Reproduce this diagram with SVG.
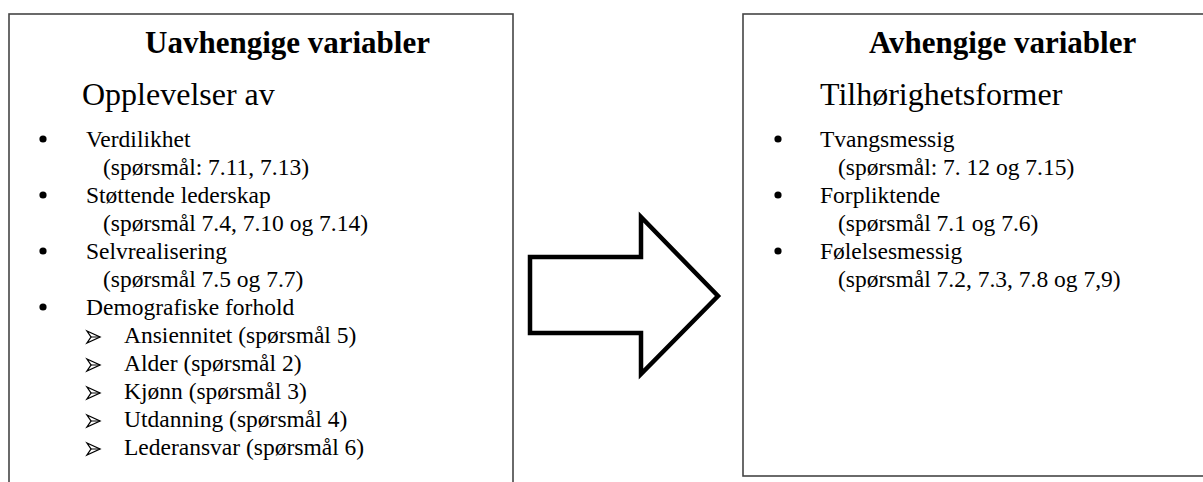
<svg xmlns="http://www.w3.org/2000/svg" width="1203" height="482" viewBox="0 0 1203 482">
<style>
.box{fill:#fff;stroke:#454545;stroke-width:1.6}
.title{font-family:"Liberation Serif","Times New Roman",serif;font-weight:bold;font-size:31px;fill:#000}
.sub{font-family:"Liberation Serif","Times New Roman",serif;font-size:32px;fill:#000}
.item{font-family:"Liberation Serif","Times New Roman",serif;font-size:23.5px;fill:#000}
.dot{fill:#000}
.ah{fill:#fff;stroke:#000;stroke-width:1.3;stroke-linejoin:miter}
.ahl{stroke:#000;stroke-width:1}
.bigarrow{fill:#fff;stroke:#000;stroke-width:4.5;stroke-linejoin:miter}
</style>
<defs>
<g id="ahead">
<polygon class="ah" points="0,-6 13,0 0,6 4,0"/>
<line class="ahl" x1="4" y1="0" x2="13" y2="0"/>
</g>
</defs>
<rect width="1203" height="482" fill="#fff"/>
<g id="uavhengige">
<rect class="box" x="9" y="14" width="504" height="490"/>
<text class="title" x="145" y="53">Uavhengige variabler</text>
<text class="sub" x="82" y="105">Opplevelser av</text>
<circle class="dot" cx="43" cy="139" r="3.6"/>
<text class="item" x="86" y="147">Verdilikhet</text>
<text class="item" x="103" y="175">(spørsmål: 7.11, 7.13)</text>
<circle class="dot" cx="43" cy="195" r="3.6"/>
<text class="item" x="86" y="203">Støttende lederskap</text>
<text class="item" x="103" y="231">(spørsmål 7.4, 7.10 og 7.14)</text>
<circle class="dot" cx="43" cy="251" r="3.6"/>
<text class="item" x="86" y="259">Selvrealisering</text>
<text class="item" x="103" y="287">(spørsmål 7.5 og 7.7)</text>
<circle class="dot" cx="43" cy="307" r="3.6"/>
<text class="item" x="86" y="315">Demografiske forhold</text>
<use href="#ahead" x="87" y="337"/>
<text class="item" x="124" y="343">Ansiennitet (spørsmål 5)</text>
<use href="#ahead" x="87" y="365"/>
<text class="item" x="124" y="371">Alder (spørsmål 2)</text>
<use href="#ahead" x="87" y="393"/>
<text class="item" x="124" y="399">Kjønn (spørsmål 3)</text>
<use href="#ahead" x="87" y="421"/>
<text class="item" x="124" y="427">Utdanning (spørsmål 4)</text>
<use href="#ahead" x="87" y="449"/>
<text class="item" x="124" y="455">Lederansvar (spørsmål 6)</text>
</g>
<g id="connectors">
<polygon class="bigarrow" points="530,257 641,257 641,217 718,296 641,374 641,333 530,333"/>
</g>
<g id="avhengige">
<rect class="box" x="743" y="14" width="520" height="462"/>
<text class="title" x="869" y="53">Avhengige variabler</text>
<text class="sub" x="820" y="105">Tilhørighetsformer</text>
<circle class="dot" cx="778" cy="139" r="3.6"/>
<text class="item" x="820" y="147">Tvangsmessig</text>
<text class="item" x="838" y="175">(spørsmål: 7. 12 og 7.15)</text>
<circle class="dot" cx="778" cy="195" r="3.6"/>
<text class="item" x="820" y="203">Forpliktende</text>
<text class="item" x="838" y="231">(spørsmål 7.1 og 7.6)</text>
<circle class="dot" cx="778" cy="251" r="3.6"/>
<text class="item" x="820" y="259">Følelsesmessig</text>
<text class="item" x="838" y="287">(spørsmål 7.2, 7.3, 7.8 og 7,9)</text>
</g>
</svg>
